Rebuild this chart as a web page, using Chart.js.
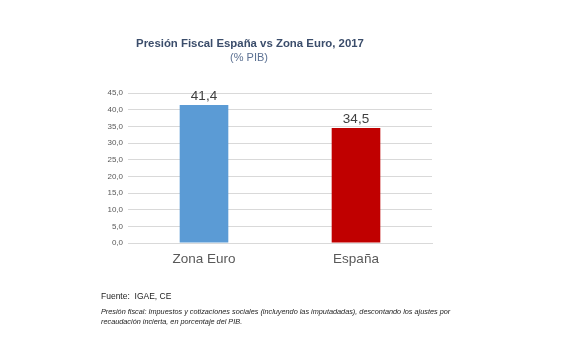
<!DOCTYPE html>
<html>
<head>
<meta charset="utf-8">
<script src="https://cdn.jsdelivr.net/npm/chart.js@4/dist/chart.umd.min.js"></script>
<style>
  html, body { margin: 0; padding: 0; background: #fff; }
  #wrap { position: relative; width: 588px; height: 353px; font-family: "Liberation Sans", Arial, sans-serif; }
  #c { position: absolute; left: 0; top: 0; }
  .t { position: absolute; white-space: nowrap; }
  #title { left: 0; width: 500px; top: 37px; text-align: center; font-weight: bold; font-size: 11.4px; color: #3b4d6b; }
  #sub { left: 0; width: 498px; top: 51px; text-align: center; font-size: 11px; color: #5b7092; }
  #src { left: 101px; top: 291px; font-size: 8.5px; color: #222; }
  #note { left: 101px; top: 307px; font-size: 7.3px; line-height: 10px; font-style: italic; color: #222; }
</style>
</head>
<body>
<div id="wrap">
  <canvas id="c" width="588" height="353"></canvas>
  <div class="t" id="title">Presión Fiscal España vs Zona Euro, 2017</div>
  <div class="t" id="sub">(% PIB)</div>
  <div class="t" id="src">Fuente:&nbsp; IGAE, CE</div>
  <div class="t" id="note">Presión fiscal: Impuestos y cotizaciones sociales (incluyendo las imputadadas), descontando los ajustes por<br>recaudación incierta, en porcentaje del PIB.</div>
</div>
<script>
const categorias = ['Zona Euro', 'España'];
const presion = [41.4, 34.5];
const colores = ['#5b9bd5', '#c00000'];

const coma = v => v.toFixed(1).replace('.', ',');

// etiquetas encima de las barras
const etiquetas = {
  id: 'etiquetas',
  afterDatasetsDraw(chart) {
    const ctx = chart.ctx;
    const meta = chart.getDatasetMeta(0);
    ctx.save();
    ctx.font = '13.5px "Liberation Sans", Arial, sans-serif';
    ctx.fillStyle = '#404040';
    ctx.textAlign = 'center';
    ctx.textBaseline = 'bottom';
    meta.data.forEach((bar, i) => {
      ctx.fillText(coma(presion[i]), bar.x, bar.y - 2);
    });
    ctx.restore();
  }
};

new Chart(document.querySelector('#c'), {
  type: 'bar',
  data: {
    labels: categorias,
    datasets: [{
      data: presion,
      backgroundColor: colores,
      barPercentage: 0.32,
      categoryPercentage: 1
    }]
  },
  options: {
    responsive: false,
    animation: false,
    layout: { padding: { top: 93, right: 156, left: 0, bottom: 0 } },
    plugins: { legend: { display: false }, tooltip: { enabled: false } },
    scales: {
      y: {
        min: 0,
        max: 45,
        ticks: {
          stepSize: 5,
          padding: 5,
          color: '#595959',
          font: { size: 8, family: '"Liberation Sans", Arial, sans-serif' },
          callback: v => coma(v)
        },
        grid: { color: '#d9d9d9', drawTicks: false },
        border: { display: false },
        afterFit(scale) { scale.width = 128; }
      },
      x: {
        ticks: {
          padding: 8,
          color: '#595959',
          font: { size: 13.5, family: '"Liberation Sans", Arial, sans-serif' }
        },
        grid: { display: false, drawTicks: false },
        border: { color: '#d9d9d9' },
        afterFit(scale) { scale.height = 110; }
      }
    }
  },
  plugins: [etiquetas]
});
</script>
</body>
</html>
